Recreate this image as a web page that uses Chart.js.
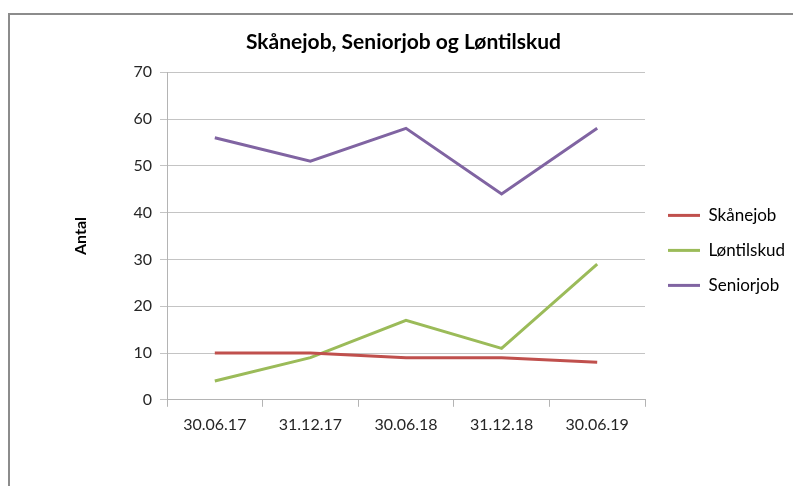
<!DOCTYPE html>
<html>
<head>
<meta charset="utf-8">
<script src="https://cdn.jsdelivr.net/npm/chart.js@4"></script>
<style>
  body { margin: 0; background: #fff; }
  #wrap { position: relative; width: 793px; height: 486px; overflow: hidden; }
  #frame { position: absolute; left: 8px; top: 13px; width: 800px; height: 490px;
           border-left: 2px solid #8c8c8c; border-top: 2px solid #8c8c8c; }
  canvas { position: absolute; left: 0; top: 0; }
</style>
</head>
<body>
<div id="wrap">
  <div id="frame"></div>
  <canvas id="chart" width="793" height="486"></canvas>
</div>
<script>
const categories = ["30.06.17", "31.12.17", "30.06.18", "31.12.18", "30.06.19"];
const skanejob = [10, 10, 9, 9, 8];
const lontilskud = [4, 9, 17, 11, 29];
const seniorjob = [56, 51, 58, 44, 58];
const yMin = 0, yMax = 70, yStep = 10;

const FONT = "Lato, 'Liberation Sans', sans-serif";

new Chart(document.getElementById("chart"), {
  type: "line",
  data: {
    labels: categories,
    datasets: [
      { label: "Skånejob", data: skanejob, borderColor: "#C0504D", backgroundColor: "#C0504D", borderWidth: 3 },
      { label: "Løntilskud", data: lontilskud, borderColor: "#9BBB59", backgroundColor: "#9BBB59", borderWidth: 3 },
      { label: "Seniorjob", data: seniorjob, borderColor: "#8064A2", backgroundColor: "#8064A2", borderWidth: 3 }
    ]
  },
  options: {
    responsive: false,
    animation: false,
    elements: {
      line: { borderWidth: 3, tension: 0 },
      point: { radius: 0 }
    },
    layout: { padding: { left: 14, right: 0, top: 30, bottom: 44 } },
    plugins: {
      title: {
        display: true,
        text: "Skånejob, Seniorjob og Løntilskud",
        color: "#000",
        font: { family: FONT, size: 21, weight: "bold" },
        padding: { top: 0, bottom: 17 }
      },
      legend: {
        position: "right",
        maxWidth: 143,
        title: { display: true, text: " ", font: { size: 14 }, padding: 6 },
        labels: {
          usePointStyle: true,
          pointStyle: "line",
          pointStyleWidth: 32,
          boxWidth: 32,
          padding: 18,
          color: "#000",
          font: { family: FONT, size: 17 }
        }
      },
      tooltip: { enabled: false }
    },
    scales: {
      x: {
        offset: true,
        grid: { offset: true, drawOnChartArea: false, drawTicks: true, tickLength: 7, color: "#b4b4b4" },
        border: { color: "#b4b4b4", width: 1 },
        ticks: { color: "#262626", font: { family: FONT, size: 16 }, padding: 8, maxRotation: 0 }
      },
      y: {
        min: yMin,
        max: yMax,
        ticks: { stepSize: yStep, color: "#262626", font: { family: FONT, size: 16 }, padding: 8 },
        grid: { color: "#c4c4c4", tickLength: 7, drawTicks: true },
        border: { color: "#b4b4b4", width: 1 },
        title: {
          display: true,
          text: "Antal",
          color: "#000",
          font: { family: FONT, size: 16, weight: "bold" },
          padding: { top: 57, bottom: 0 }
        },
        afterFit: function (scale) { scale.width = 153; }
      },
      gap: {
        type: "linear",
        position: "right",
        display: true,
        grid: { display: false },
        border: { display: false },
        ticks: { display: false },
        afterFit: function (scale) { scale.width = 5; }
      }
    }
  }
});
</script>
</body>
</html>
